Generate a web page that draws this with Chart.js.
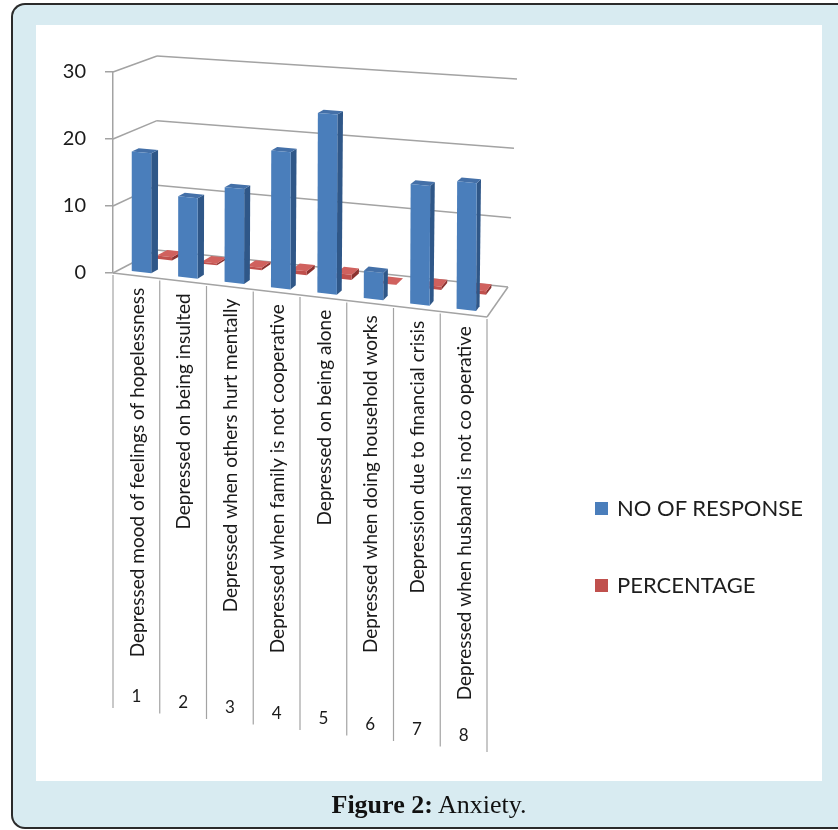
<!DOCTYPE html>
<html>
<head>
<meta charset="utf-8">
<script src="https://cdn.jsdelivr.net/npm/chart.js@4.4.1/dist/chart.umd.min.js"></script>
<style>
  html, body { margin: 0; padding: 0; width: 838px; height: 830px; overflow: hidden; background: #fff; }
  #frame { position: absolute; left: 11px; top: 3px; width: 840px; height: 826px; box-sizing: border-box;
           border: 2px solid #2b2b2b; border-right: none; border-radius: 14px 0 0 14px; background: #d8ebf1; }
  #panel { position: absolute; left: 36px; top: 25px; width: 786px; height: 756px; background: #fff; }
  #chart { position: absolute; left: 0; top: 0; }
  .legend-item { position: absolute; left: 595px; height: 26px; line-height: 26px;
                 font-family: Lato, "Open Sans", sans-serif; font-size: 22px; color: #1e1e1e; white-space: nowrap; }
  .legend-item span.box { position: absolute; left: 0; top: 7px; width: 13px; height: 13px; }
  .legend-item span.txt { position: absolute; left: 22px; top: 0; }
  #caption { position: absolute; left: 36px; top: 790px; width: 786px; text-align: center;
             font-family: "Liberation Serif", "DejaVu Serif", serif; font-size: 26px; line-height: 30px; color: #111; }
</style>
</head>
<body>
<div id="frame"></div>
<div id="panel"></div>
<canvas id="chart" width="838" height="830"></canvas>
<div id="legend"></div>
<div id="caption"><b>Figure 2:</b> Anxiety.</div>
<script>
// Survey items (category axis)
const categories = [
  'Depressed mood of feelings of hopelessness',
  'Depressed on being insulted',
  'Depressed when others hurt mentally',
  'Depressed when family is not cooperative',
  'Depressed on being alone',
  'Depressed when doing household works',
  'Depression due to financial crisis',
  'Depressed when husband is not co operative'
];
const categoryNumbers = ['1', '2', '3', '4', '5', '6', '7', '8'];
const seriesNames = ['NO OF RESPONSE', 'PERCENTAGE'];
const responses = [18, 12, 14, 20, 26, 4, 17, 18];
const percentages = [0.6, 0.4, 0.47, 0.67, 0.87, 0.13, 0.57, 0.6];
const valueTicks = [0, 10, 20, 30];

// Styling
const GRID = '#a3a3a3';
const TEXT = '#1a1a1a';
const SERIES_STYLE = [
  { front: '#4a7ebb', side: '#2f5788', top: '#4470a8', depth: [0.12, 0.28] },
  { front: '#c0504d', side: '#8c3230', top: '#d0615e', depth: [0.66, 0.9] }
];

// Trilinear projection of the 3-D plot box: u = across categories,
// t = up the value axis, w = into the depth of the box.
function projector(ca) {
  const L = ca.left, R = ca.right, T = ca.top, B = ca.bottom;
  const c = {
    '000': [L, B],           '100': [R, B + 44],
    '010': [L, T],           '110': [R, T + 29],
    '001': [L + 44, B - 23], '101': [R + 21, B + 14],
    '011': [L + 44, T - 16], '111': [R + 30, T + 7]
  };
  const lerp = (a, b, k) => a + (b - a) * k;
  return (u, t, w) => {
    const out = [0, 1].map(i => {
      const a = lerp(lerp(c['000'][i], c['100'][i], u), lerp(c['010'][i], c['110'][i], u), t);
      const b = lerp(lerp(c['001'][i], c['101'][i], u), lerp(c['011'][i], c['111'][i], u), t);
      return lerp(a, b, w);
    });
    return { x: out[0], y: out[1] };
  };
}

function quad(ctx, pts, fill) {
  ctx.beginPath();
  ctx.moveTo(pts[0].x, pts[0].y);
  for (let i = 1; i < pts.length; i++) ctx.lineTo(pts[i].x, pts[i].y);
  ctx.closePath();
  ctx.fillStyle = fill;
  ctx.fill();
}

function seg(ctx, a, b) {
  ctx.beginPath();
  ctx.moveTo(a.x, a.y);
  ctx.lineTo(b.x, b.y);
  ctx.stroke();
}

const box3d = {
  id: 'box3d',
  beforeDatasetsDraw(chart) {
    const { ctx, chartArea: ca, scales: { y } } = chart;
    const P = projector(ca);
    const W = ca.right - ca.left, H = ca.bottom - ca.top;
    const tOf = py => (ca.bottom - py) / H;
    const uOf = px => (px - ca.left) / W;

    ctx.save();
    ctx.strokeStyle = GRID;
    ctx.lineWidth = 1.5;
    // side wall and back wall gridlines
    y.ticks.forEach(tk => {
      const t = tOf(y.getPixelForValue(tk.value));
      seg(ctx, P(0, t, 0), P(0, t, 1));
      seg(ctx, P(0, t, 1), P(1, t, 1));
    });
    // floor edges
    seg(ctx, P(0, 0, 0), P(1, 0, 0));
    seg(ctx, P(1, 0, 0), P(1, 0, 1));

    // columns: back row first
    [1, 0].forEach(di => {
      const st = SERIES_STYLE[di];
      const [w0, w1] = st.depth;
      chart.getDatasetMeta(di).data.forEach(el => {
        const { x, y: py, base, width } = el.getProps(['x', 'y', 'base', 'width'], true);
        const u1 = uOf(x - width / 2), u2 = uOf(x + width / 2);
        const t0 = tOf(base), t1 = tOf(py);
        quad(ctx, [P(u2, t0, w0), P(u2, t0, w1), P(u2, t1, w1), P(u2, t1, w0)], st.side);
        quad(ctx, [P(u1, t1, w0), P(u2, t1, w0), P(u2, t1, w1), P(u1, t1, w1)], st.top);
        quad(ctx, [P(u1, t0, w0), P(u2, t0, w0), P(u2, t1, w0), P(u1, t1, w0)], st.front);
      });
    });
    ctx.restore();
    return false;
  },
  afterDraw(chart) {
    const { ctx, chartArea: ca, scales: { x } } = chart;
    const P = projector(ca);
    const uOf = px => (px - ca.left) / (ca.right - ca.left);
    ctx.save();
    // table dividers below the floor
    ctx.strokeStyle = GRID;
    ctx.lineWidth = 1.2;
    for (let k = 0; k <= categories.length; k++) {
      const p = P(uOf(x.getPixelForValue(k - 0.5)), 0, 0);
      seg(ctx, { x: p.x, y: p.y + 2 }, { x: p.x, y: p.y + 435 });
    }
    // rotated item labels and item numbers
    ctx.fillStyle = TEXT;
    ctx.font = '19px Lato, "Open Sans", sans-serif';
    categories.forEach((lab, i) => {
      const p = P(uOf(x.getPixelForValue(i)), 0, 0);
      ctx.save();
      ctx.translate(p.x + 1, p.y + 12);
      ctx.rotate(-Math.PI / 2);
      ctx.textAlign = 'right';
      ctx.textBaseline = 'middle';
      ctx.fillText(lab, 0, 0);
      ctx.restore();
    });
    ctx.font = '17px Lato, "Open Sans", sans-serif';
    categories.forEach((lab, i) => {
      const p = P(uOf(x.getPixelForValue(i)), 0, 0);
      ctx.textAlign = 'center';
      ctx.textBaseline = 'middle';
      ctx.fillText(categoryNumbers[i], p.x, p.y + 421);
    });
    ctx.restore();
  }
};

const chart = new Chart(document.getElementById('chart'), {
  type: 'bar',
  data: {
    labels: categories,
    datasets: [
      { label: seriesNames[0], data: responses, backgroundColor: SERIES_STYLE[0].front,
        grouped: false, barPercentage: 0.42, categoryPercentage: 1 },
      { label: seriesNames[1], data: percentages, backgroundColor: SERIES_STYLE[1].front,
        grouped: false, barPercentage: 0.34, categoryPercentage: 1 }
    ]
  },
  options: {
    responsive: false,
    animation: false,
    devicePixelRatio: 1,
    layout: { padding: { left: 0, top: 72, right: 351, bottom: 557 } },
    plugins: { legend: { display: false }, tooltip: { enabled: false } },
    scales: {
      x: { display: false },
      y: {
        min: 0, max: 30,
        afterBuildTicks: s => { s.ticks = valueTicks.map(v => ({ value: v })); },
        afterFit: s => { s.width = 113; },
        ticks: { padding: 19, color: TEXT, font: { family: 'Lato', size: 20 } },
        grid: { drawOnChartArea: false, tickLength: 8, color: GRID, lineWidth: 1.5 },
        border: { color: GRID, width: 1.5 }
      }
    }
  },
  plugins: [box3d]
});

// legend built from the dataset settings
const legend = document.getElementById('legend');
const legendTops = [495, 572];
chart.data.datasets.forEach((ds, i) => {
  const item = document.createElement('div');
  item.className = 'legend-item';
  item.style.top = legendTops[i] + 'px';
  item.innerHTML = '<span class="box" style="background:' + ds.backgroundColor + '"></span><span class="txt">' + ds.label + '</span>';
  legend.appendChild(item);
});
</script>
</body>
</html>
